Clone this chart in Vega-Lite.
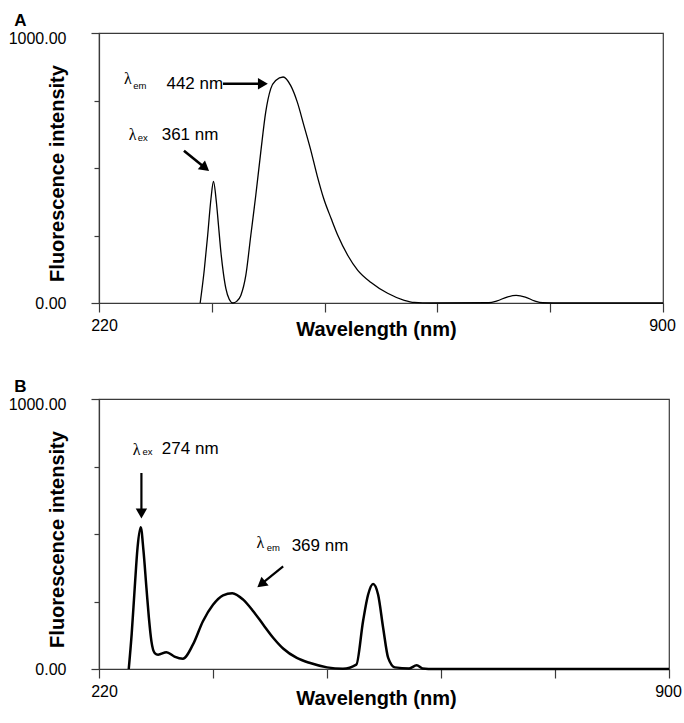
{
  "$schema": "https://vega.github.io/schema/vega-lite/v6.json",
  "padding": {"left": 7, "top": 11, "right": 0, "bottom": 3},
  "background": "white",
  "config": {
    "font": "Liberation Sans",
    "view": {"stroke": "#3a3a3a", "strokeWidth": 1.2},
    "axis": {
      "grid": false,
      "domainColor": "#3a3a3a",
      "domainWidth": 1.2,
      "tickColor": "#3a3a3a",
      "tickWidth": 1.2,
      "labelFont": "Liberation Sans",
      "labelFontSize": 16,
      "labelColor": "#000000",
      "titleFont": "Liberation Sans",
      "titleFontSize": 20,
      "titleFontWeight": "bold",
      "titleColor": "#000000"
    },
    "concat": {"spacing": 37}
  },
  "datasets": {
    "spectrumA": [
      {"wavelength": 342, "intensity": 0}, {"wavelength": 347, "intensity": 125}, {"wavelength": 351, "intensity": 250},
      {"wavelength": 355, "intensity": 386}, {"wavelength": 358, "intensity": 450}, {"wavelength": 361.5, "intensity": 374},
      {"wavelength": 364, "intensity": 290}, {"wavelength": 367, "intensity": 188}, {"wavelength": 370, "intensity": 110},
      {"wavelength": 373, "intensity": 53}, {"wavelength": 377, "intensity": 14}, {"wavelength": 381.5, "intensity": 0},
      {"wavelength": 386, "intensity": 6}, {"wavelength": 391, "intensity": 28}, {"wavelength": 397, "intensity": 102},
      {"wavelength": 403, "intensity": 250}, {"wavelength": 409, "intensity": 398}, {"wavelength": 415, "intensity": 558},
      {"wavelength": 421, "intensity": 707}, {"wavelength": 427, "intensity": 793}, {"wavelength": 433, "intensity": 824},
      {"wavelength": 442, "intensity": 837}, {"wavelength": 451, "intensity": 806}, {"wavelength": 459, "intensity": 745},
      {"wavelength": 467, "intensity": 658}, {"wavelength": 475, "intensity": 570}, {"wavelength": 483, "intensity": 472},
      {"wavelength": 491, "intensity": 386}, {"wavelength": 500, "intensity": 312}, {"wavelength": 508, "intensity": 250},
      {"wavelength": 520, "intensity": 176}, {"wavelength": 532, "intensity": 121}, {"wavelength": 548, "intensity": 76},
      {"wavelength": 568, "intensity": 36}, {"wavelength": 588, "intensity": 10}, {"wavelength": 600, "intensity": 2},
      {"wavelength": 620, "intensity": 0}, {"wavelength": 690, "intensity": 1}, {"wavelength": 700, "intensity": 8},
      {"wavelength": 712, "intensity": 22}, {"wavelength": 723, "intensity": 28}, {"wavelength": 734, "intensity": 22},
      {"wavelength": 745, "intensity": 8}, {"wavelength": 755, "intensity": 1}, {"wavelength": 780, "intensity": 0},
      {"wavelength": 900, "intensity": 0}
    ],
    "spectrumB": [
      {"wavelength": 255.5, "intensity": 0}, {"wavelength": 259, "intensity": 130}, {"wavelength": 262.6, "intensity": 300},
      {"wavelength": 266, "intensity": 450}, {"wavelength": 269.8, "intensity": 525}, {"wavelength": 273, "intensity": 440},
      {"wavelength": 276.6, "intensity": 300}, {"wavelength": 279.5, "intensity": 190}, {"wavelength": 282.5, "intensity": 103},
      {"wavelength": 286.5, "intensity": 59}, {"wavelength": 290.5, "intensity": 53}, {"wavelength": 300.5, "intensity": 62},
      {"wavelength": 310, "intensity": 46}, {"wavelength": 320, "intensity": 38}, {"wavelength": 332, "intensity": 90},
      {"wavelength": 344, "intensity": 177}, {"wavelength": 356, "intensity": 238}, {"wavelength": 368, "intensity": 273},
      {"wavelength": 379, "intensity": 281}, {"wavelength": 392, "intensity": 257}, {"wavelength": 404, "intensity": 214},
      {"wavelength": 416, "intensity": 164}, {"wavelength": 428, "intensity": 115}, {"wavelength": 440, "intensity": 75},
      {"wavelength": 456, "intensity": 41}, {"wavelength": 472, "intensity": 22}, {"wavelength": 492, "intensity": 6},
      {"wavelength": 511, "intensity": 1}, {"wavelength": 527, "intensity": 16}, {"wavelength": 535, "intensity": 177},
      {"wavelength": 541, "intensity": 275}, {"wavelength": 547, "intensity": 315}, {"wavelength": 553, "intensity": 275},
      {"wavelength": 559, "intensity": 152}, {"wavelength": 565, "intensity": 41}, {"wavelength": 573, "intensity": 6},
      {"wavelength": 590, "intensity": 2}, {"wavelength": 599, "intensity": 14}, {"wavelength": 606, "intensity": 2},
      {"wavelength": 620, "intensity": 0}, {"wavelength": 900, "intensity": 0}
    ],
    "labelsA": [
      {"wavelength": 250, "intensity": 812, "text": "λ", "role": "symbol"},
      {"wavelength": 261.3, "intensity": 792, "text": "em", "role": "sub"},
      {"wavelength": 301.3, "intensity": 791, "text": "442 nm", "role": "value"},
      {"wavelength": 256, "intensity": 605, "text": "λ", "role": "symbol"},
      {"wavelength": 266.7, "intensity": 599, "text": "ex", "role": "sub"},
      {"wavelength": 295.6, "intensity": 602, "text": "361 nm", "role": "value"}
    ],
    "arrowsA": [
      {"id": "em", "wavelength": 369.5, "intensity": 812, "wavelength2": 417.6, "intensity2": 812},
      {"id": "ex", "wavelength": 322.4, "intensity": 564, "wavelength2": 348.1, "intensity2": 500}
    ],
    "labelsB": [
      {"wavelength": 260.2, "intensity": 794, "text": "λ", "role": "symbol"},
      {"wavelength": 272, "intensity": 794, "text": "ex", "role": "sub"},
      {"wavelength": 295, "intensity": 796, "text": "274 nm", "role": "value"},
      {"wavelength": 408, "intensity": 448, "text": "λ", "role": "symbol"},
      {"wavelength": 420, "intensity": 436, "text": "em", "role": "sub"},
      {"wavelength": 449.8, "intensity": 436, "text": "369 nm", "role": "value"}
    ],
    "arrowsB": [
      {"id": "ex", "wavelength": 270.6, "intensity": 726, "wavelength2": 270.6, "intensity2": 576},
      {"id": "em", "wavelength": 439.7, "intensity": 380, "wavelength2": 413.5, "intensity2": 314}
    ]
  },
  "vconcat": [
    {
      "title": {"text": "A", "fontSize": 17, "fontWeight": "bold", "anchor": "start", "frame": "bounds", "color": "#000000", "offset": 0, "dx": 6},
      "width": 564,
      "height": 270,
      "layer": [
        {
          "data": {"name": "spectrumA"},
          "mark": {"type": "line", "color": "#000000", "strokeWidth": 1.3, "interpolate": "monotone"},
          "encoding": {
            "x": {"field": "wavelength", "type": "quantitative",
              "scale": {"domain": [220, 900], "nice": false, "zero": false},
              "axis": {"title": "Wavelength (nm)", "values": [220, 356, 492, 628, 764, 900], "format": "d",
                "labelExpr": "datum.value == 220 || datum.value == 900 ? datum.label : ''",
                "labelFlush": false, "labelOffset": {"condition": {"test": "datum.value == 220", "value": 5}, "value": -1},
                "tickSize": 9, "labelPadding": 5,
                "titleX": 277, "titleY": 32, "titleBaseline": "alphabetic", "titleAlign": "center"}},
            "y": {"field": "intensity", "type": "quantitative",
              "scale": {"domain": [0, 1000], "nice": false},
              "axis": {"title": "Fluorescence intensity", "values": [0, 250, 500, 750, 1000],
                "labelExpr": "datum.value == 0 || datum.value == 1000 ? format(datum.value, '.2f') : ''",
                "tickSize": {"condition": {"test": "datum.value == 0 || datum.value == 1000", "value": 8}, "value": 5},
                "labelOffset": {"condition": {"test": "datum.value == 1000", "value": 5}, "value": 0},
                "labelPadding": 25, "labelFlush": false,
                "titleX": -36, "titleY": 140, "titleBaseline": "alphabetic", "titleAlign": "center"}}
          }
        },
        {
          "data": {"name": "labelsA"},
          "transform": [{"filter": "datum.role == 'symbol'"}],
          "mark": {"type": "text", "font": "Liberation Serif", "fontSize": 16, "align": "left", "baseline": "alphabetic", "color": "#000000"},
          "encoding": {"x": {"field": "wavelength", "type": "quantitative"}, "y": {"field": "intensity", "type": "quantitative"}, "text": {"field": "text"}}
        },
        {
          "data": {"name": "labelsA"},
          "transform": [{"filter": "datum.role == 'sub'"}],
          "mark": {"type": "text", "font": "Liberation Sans", "fontSize": 9.5, "align": "left", "baseline": "alphabetic", "color": "#000000"},
          "encoding": {"x": {"field": "wavelength", "type": "quantitative"}, "y": {"field": "intensity", "type": "quantitative"}, "text": {"field": "text"}}
        },
        {
          "data": {"name": "labelsA"},
          "transform": [{"filter": "datum.role == 'value'"}],
          "mark": {"type": "text", "font": "Liberation Sans", "fontSize": 17, "align": "left", "baseline": "alphabetic", "color": "#000000"},
          "encoding": {"x": {"field": "wavelength", "type": "quantitative"}, "y": {"field": "intensity", "type": "quantitative"}, "text": {"field": "text"}}
        },
        {
          "data": {"name": "arrowsA"},
          "mark": {"type": "rule", "color": "#000000", "strokeWidth": 2.6},
          "encoding": {"x": {"field": "wavelength", "type": "quantitative"}, "y": {"field": "intensity", "type": "quantitative"},
            "x2": {"field": "wavelength2"}, "y2": {"field": "intensity2"}}
        },
        {
          "data": {"name": "arrowsA"},
          "transform": [{"filter": "datum.id == 'em'"}],
          "mark": {"type": "point", "shape": "triangle-right", "filled": true, "color": "#000000", "size": 130, "opacity": 1, "angle": 0},
          "encoding": {"x": {"field": "wavelength2", "type": "quantitative"}, "y": {"field": "intensity2", "type": "quantitative"}}
        },
        {
          "data": {"name": "arrowsA"},
          "transform": [{"filter": "datum.id == 'ex'"}],
          "mark": {"type": "point", "shape": "triangle-right", "filled": true, "color": "#000000", "size": 130, "opacity": 1, "angle": 39},
          "encoding": {"x": {"field": "wavelength2", "type": "quantitative"}, "y": {"field": "intensity2", "type": "quantitative"}}
        }
      ]
    },
    {
      "title": {"text": "B", "fontSize": 17, "fontWeight": "bold", "anchor": "start", "frame": "bounds", "color": "#000000", "offset": 0, "dx": 6},
      "width": 570,
      "height": 270,
      "layer": [
        {
          "data": {"name": "spectrumB"},
          "mark": {"type": "line", "color": "#000000", "strokeWidth": 2.5, "interpolate": "monotone"},
          "encoding": {
            "x": {"field": "wavelength", "type": "quantitative",
              "scale": {"domain": [220, 900], "nice": false, "zero": false},
              "axis": {"title": "Wavelength (nm)", "values": [220, 356, 492, 628, 764, 900], "format": "d",
                "labelExpr": "datum.value == 220 || datum.value == 900 ? datum.label : ''",
                "labelFlush": false, "labelOffset": {"condition": {"test": "datum.value == 220", "value": 5}, "value": -1},
                "tickSize": 9, "labelPadding": 5,
                "titleX": 277, "titleY": 35, "titleBaseline": "alphabetic", "titleAlign": "center"}},
            "y": {"field": "intensity", "type": "quantitative",
              "scale": {"domain": [0, 1000], "nice": false},
              "axis": {"title": "Fluorescence intensity", "values": [0, 250, 500, 750, 1000],
                "labelExpr": "datum.value == 0 || datum.value == 1000 ? format(datum.value, '.2f') : ''",
                "tickSize": {"condition": {"test": "datum.value == 0 || datum.value == 1000", "value": 8}, "value": 5},
                "labelOffset": {"condition": {"test": "datum.value == 1000", "value": 5}, "value": 0},
                "labelPadding": 25, "labelFlush": false,
                "titleX": -36, "titleY": 140, "titleBaseline": "alphabetic", "titleAlign": "center"}}
          }
        },
        {
          "data": {"name": "labelsB"},
          "transform": [{"filter": "datum.role == 'symbol'"}],
          "mark": {"type": "text", "font": "Liberation Serif", "fontSize": 16, "align": "left", "baseline": "alphabetic", "color": "#000000"},
          "encoding": {"x": {"field": "wavelength", "type": "quantitative"}, "y": {"field": "intensity", "type": "quantitative"}, "text": {"field": "text"}}
        },
        {
          "data": {"name": "labelsB"},
          "transform": [{"filter": "datum.role == 'sub'"}],
          "mark": {"type": "text", "font": "Liberation Sans", "fontSize": 9.5, "align": "left", "baseline": "alphabetic", "color": "#000000"},
          "encoding": {"x": {"field": "wavelength", "type": "quantitative"}, "y": {"field": "intensity", "type": "quantitative"}, "text": {"field": "text"}}
        },
        {
          "data": {"name": "labelsB"},
          "transform": [{"filter": "datum.role == 'value'"}],
          "mark": {"type": "text", "font": "Liberation Sans", "fontSize": 17, "align": "left", "baseline": "alphabetic", "color": "#000000"},
          "encoding": {"x": {"field": "wavelength", "type": "quantitative"}, "y": {"field": "intensity", "type": "quantitative"}, "text": {"field": "text"}}
        },
        {
          "data": {"name": "arrowsB"},
          "mark": {"type": "rule", "color": "#000000", "strokeWidth": 2.2},
          "encoding": {"x": {"field": "wavelength", "type": "quantitative"}, "y": {"field": "intensity", "type": "quantitative"},
            "x2": {"field": "wavelength2"}, "y2": {"field": "intensity2"}}
        },
        {
          "data": {"name": "arrowsB"},
          "transform": [{"filter": "datum.id == 'ex'"}],
          "mark": {"type": "point", "shape": "triangle-down", "filled": true, "color": "#000000", "size": 130, "opacity": 1},
          "encoding": {"x": {"field": "wavelength2", "type": "quantitative"}, "y": {"field": "intensity2", "type": "quantitative"}}
        },
        {
          "data": {"name": "arrowsB"},
          "transform": [{"filter": "datum.id == 'em'"}],
          "mark": {"type": "point", "shape": "triangle-right", "filled": true, "color": "#000000", "size": 130, "opacity": 1, "angle": 141},
          "encoding": {"x": {"field": "wavelength2", "type": "quantitative"}, "y": {"field": "intensity2", "type": "quantitative"}}
        }
      ]
    }
  ]
}
